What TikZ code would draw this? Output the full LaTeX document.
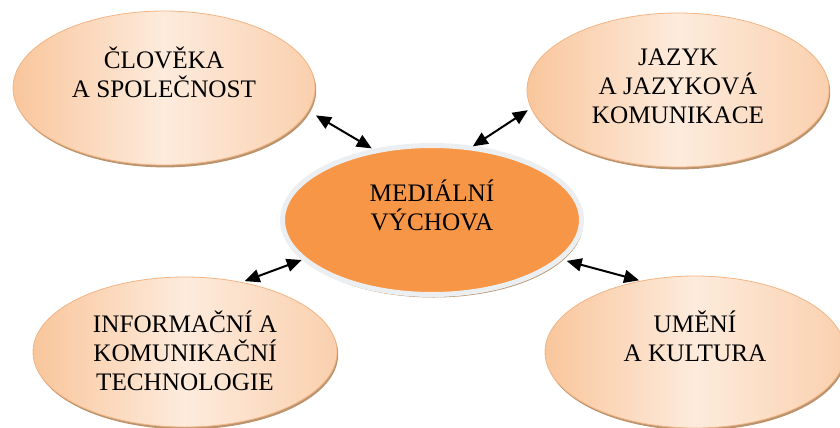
\documentclass[tikz,border=0pt]{standalone}
\usepackage{fontspec}
\setmainfont{Liberation Serif}
\usetikzlibrary{shapes.geometric, arrows.meta, shadows}

\definecolor{peachdark}{RGB}{249,198,156}
\definecolor{peachlight}{RGB}{253,235,220}
\definecolor{peachright}{RGB}{250,208,174}
\definecolor{peachedge}{RGB}{242,180,132}
\definecolor{rimbrown}{RGB}{186,148,110}
\definecolor{medorange}{RGB}{247,150,70}
\definecolor{rimgray}{RGB}{236,239,242}

\begin{document}
\begin{tikzpicture}[
    x=0.5pt, y=-0.5pt,
    % Define styles for consistent formatting
    area/.style={ellipse, inner sep=0pt, outer sep=0pt,
        left color=peachdark, right color=peachright, middle color=peachlight, draw=peachedge, line width=0.4pt,
        general shadow={fill=rimbrown, shadow xshift=0.6pt, shadow yshift=-1.2pt}},
    hub/.style={ellipse, inner sep=0pt, outer sep=0pt, fill=medorange, draw=rimgray, line width=2.5pt,
        general shadow={fill=rimbrown, shadow xshift=0.8pt, shadow yshift=-1.5pt}},
    areatext/.style={align=center, font=\fontsize{12.6}{14.5}\selectfont, text=black},
    link/.style={{Triangle[length=7.5pt,width=6.5pt]}-{Triangle[length=7.5pt,width=6.5pt]}, line width=1pt}
]

% Fixed picture size
\useasboundingbox (0,0) rectangle (840,428);

% Subject areas
\node [area, minimum width=151pt, minimum height=77pt] (tl) at (164,88) {};
\node [area, minimum width=151pt, minimum height=77pt] (tr) at (678,90) {};
\node [area, minimum width=152pt, minimum height=75pt] (bl) at (185,352) {};
\node [area, minimum width=150pt, minimum height=76pt] (br) at (695,352) {};

% Central theme
\node [hub, minimum width=149.5pt, minimum height=74.5pt] (mid) at (432,220) {};

% Labels
\node [areatext] (tltext) at ([yshift=8pt]tl.center) {ČLOVĚKA\\A SPOLEČNOST};
\node [areatext] (trtext) at ([yshift=1.75pt]tr.center) {JAZYK\\A JAZYKOVÁ\\KOMUNIKACE};
\node [areatext] (midtext) at ([yshift=7.25pt]mid.center) {MEDIÁLNÍ\\VÝCHOVA};
\node [areatext] (bltext) at ([yshift=0.75pt]bl.center) {INFORMAČNÍ A\\KOMUNIKAČNÍ\\TECHNOLOGIE};
\node [areatext] (brtext) at ([yshift=7.75pt]br.center) {UMĚNÍ\\A KULTURA};

% Links to the centre
\draw [link, shorten <=4.5pt, shorten >=2.5pt] (tl.-9) -- (mid.129);
\draw [link, shorten <=2pt, shorten >=1.5pt] (tr.187) -- (mid.62);
\draw [link, shorten <=1.75pt, shorten >=1.5pt] (bl.51) -- (mid.197);
\draw [link, shorten <=1.25pt, shorten >=3.75pt] (br.127) -- (mid.-17);

\end{tikzpicture}
\end{document}
